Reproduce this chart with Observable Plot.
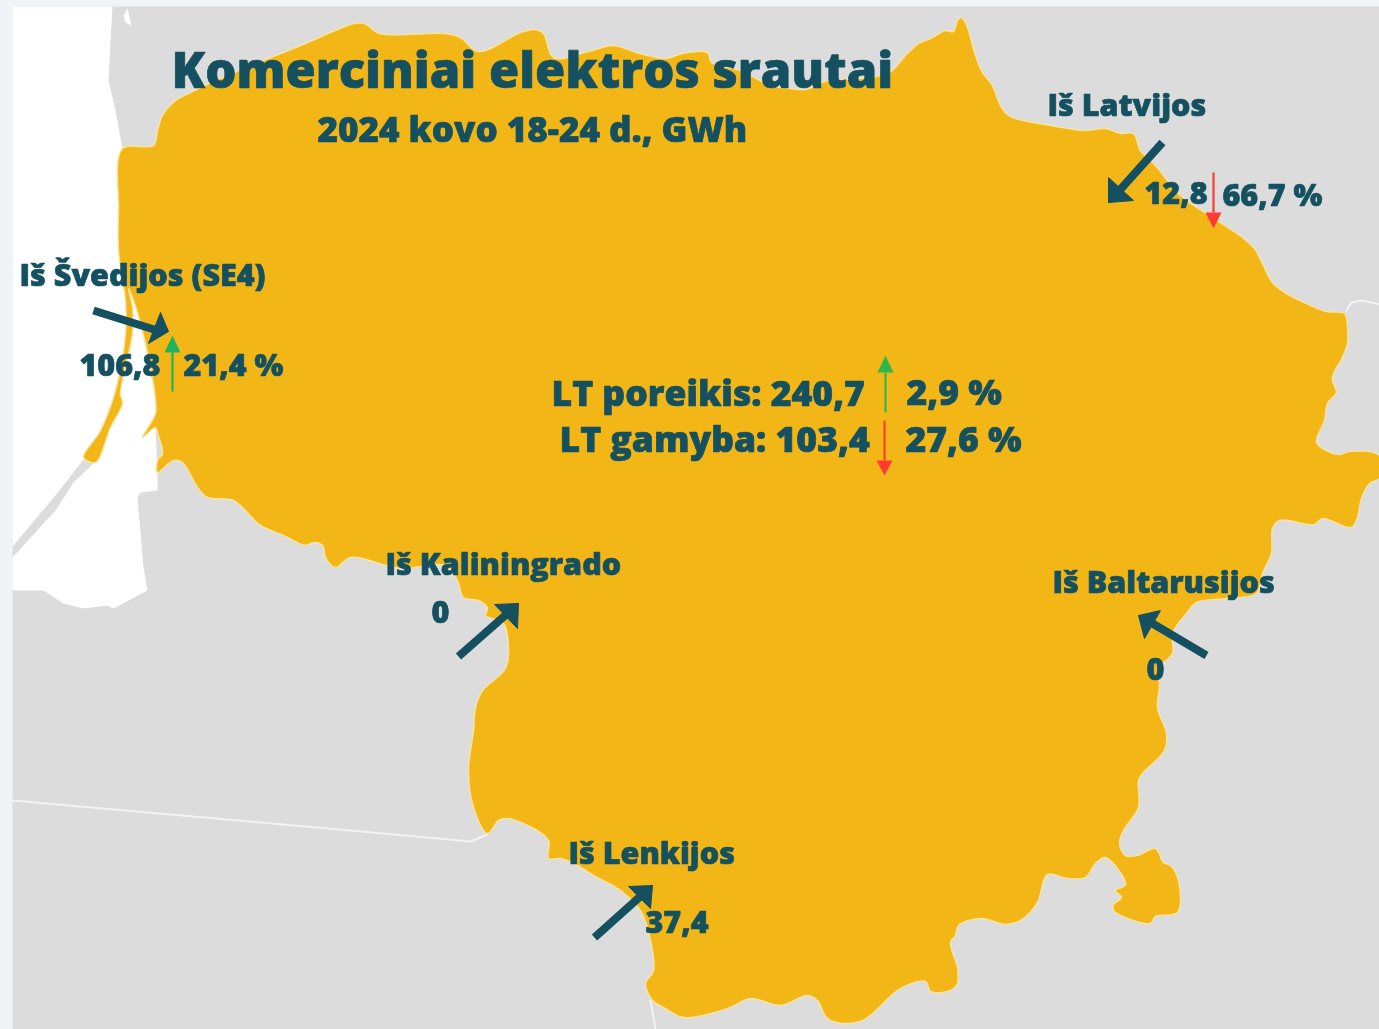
<!DOCTYPE html>
<html><head><meta charset="utf-8">
<script src="https://cdn.jsdelivr.net/npm/d3@7"></script>
<script src="https://cdn.jsdelivr.net/npm/@observablehq/plot@0.6"></script>
<style>html,body{margin:0;padding:0;background:#eff4f8;overflow:hidden}svg{display:block;filter:blur(0.45px)}</style>
</head><body><div id="chart"></div>
<script>
// Map outline, in picture pixels [x, y]
const lithuania = [[122,148],[153,145],[157,130],[162,115],[175,100],[190,92],[215,80],[300,45],[354,23],[364,23],[379,33],[445,33],[460,37],[478,51],[520,32],[534,29],[543,33],[553,57],[588,51],[613,45],[636,52],[665,58],[682,53],[707,52],[711,62],[740,70],[770,85],[790,88],[805,89],[827,80],[860,78],[889,72],[905,55],[918,43],[930,38],[945,30],[953,31],[957,20],[960,17],[965,22],[975,55],[982,72],[992,85],[1000,105],[1008,115],[1015,118],[1050,125],[1085,130],[1105,128],[1120,133],[1133,133],[1140,150],[1155,165],[1180,195],[1212,217],[1242,237],[1254,248],[1262,263],[1272,282],[1286,293],[1306,303],[1326,311],[1344,313],[1347,327],[1347,343],[1342,357],[1333,373],[1332,380],[1336,392],[1327,403],[1324,420],[1316,442],[1326,450],[1339,454],[1349,451],[1379,455],[1379,478],[1369,483],[1361,498],[1357,517],[1351,527],[1322,518],[1314,524],[1279,520],[1272,528],[1271,553],[1262,573],[1256,593],[1226,598],[1196,602],[1186,613],[1172,633],[1172,653],[1159,667],[1159,687],[1157,707],[1166,733],[1164,750],[1142,773],[1138,780],[1138,807],[1123,830],[1119,843],[1125,855],[1137,855],[1155,848],[1163,862],[1170,865],[1178,880],[1177,912],[1155,916],[1150,923],[1127,918],[1113,910],[1113,904],[1121,897],[1115,890],[1125,884],[1105,857],[1095,863],[1085,877],[1067,878],[1047,874],[1037,902],[1023,918],[1007,924],[980,918],[958,925],[955,935],[950,942],[957,967],[957,983],[950,990],[930,991],[925,981],[900,988],[860,1021],[828,1019],[817,1000],[807,995],[780,1005],[750,998],[727,1008],[683,1017],[663,1007],[652,1000],[645,983],[653,970],[650,940],[640,910],[620,890],[593,875],[577,865],[560,858],[548,858],[548,840],[533,828],[507,818],[498,820],[487,833],[473,807],[468,770],[473,730],[475,707],[482,690],[505,668],[508,647],[503,623],[485,615],[487,608],[478,600],[463,597],[457,580],[445,565],[400,568],[350,557],[335,567],[325,557],[322,545],[313,542],[305,545],[283,535],[260,525],[233,500],[207,497],[197,487],[182,462],[173,460],[157,472],[157,460],[162,453],[157,433],[155,427],[142,437],[155,413],[155,400],[150,367],[140,323],[133,300],[128,288],[132,307],[132,333],[120,393],[122,403],[110,427],[95,462],[83,457],[100,430],[115,390],[125,333],[125,300],[122,280],[118,250],[118,210]];
const sea = [[12,6],[112,6],[110,40],[108,80],[115,110],[122,148],[118,210],[118,250],[122,280],[128,288],[133,300],[140,323],[150,367],[155,400],[155,427],[157,472],[157,490],[140,492],[137,497],[143,567],[147,590],[113,608],[106,605],[83,608],[63,603],[43,590],[12,590]];
const curonianSpit = [[83,459],[93,463],[73,482],[55,510],[12,557],[12,546],[55,495]];
const islet = [[127,8],[131,25],[125,22],[123,15]];
const kaliningradBorder = [[12,800],[350,830],[470,841],[487,834]];
const polandBorder = [[650,1000],[655,1029]];
const latviaBorder = [[1346,310],[1351,302],[1362,300],[1379,304]];

// Flow arrows: shaft tail, tip and the two head corners
const flowNames = ["Latvija","Švedija","Kaliningradas","Baltarusija","Lenkija"];
const flowShafts = [[1162,142,1118,191],[93,310,160,331],[458,656,508,612],[1206,655,1147,620],[594,937,642,894]];
const flowHeads = [
  [[1108,202],[1108,177],[1133,200]],
  [[168,331],[160,312],[148,343]],
  [[518,603],[494,604],[517,628]],
  [[1138,615],[1160,610],[1144,638]],
  [[652,885],[628,886],[650,908]]
];

// Change indicators
const changeX =    [172, 885, 884, 1213];
const changeTail = [391, 412, 420, 172];
const changeTip =  [335, 355, 475, 228];
const changeBase = [352, 372, 460, 212];
const changeColor = ["#1fb45c","#2fb84a","#ff3b30","#ff3b30"];

// Text
const labels = ["Iš Latvijos","12,8","66,7 %","Iš Švedijos (SE4)","106,8","21,4 %","Iš Kaliningrado","0","Iš Baltarusijos","0","Iš Lenkijos","37,4"];
const labelX = [1047,1144,1222,19,79,183,385,431,1052,1146,568,645];
const labelY = [106,194,196,276,366,366,565,613,583,670,854,923];
const central = ["LT poreikis: 240,7","2,9 %","LT gamyba: 103,4","27,6 %"];
const centralX = [551,906,559,905];
const centralY = [394,393,440,440];

const ink = "#14505f", gold = "#f2b716", land = "#dcdcdc";
const font = "'Open Sans', sans-serif";
const poly = (pts, o) => Plot.line(pts, {x:d=>d[0], y:d=>d[1], ...o});
const closed = pts => [...pts, pts[0]];
const bold = {textAnchor:"start", fontWeight:800, fontFamily:font, fill:ink, stroke:ink, strokeWidth:0.7};

const chart = Plot.plot({
  width:1379, height:1029, margin:0,
  x:{domain:[0,1379], range:[0,1379], axis:null},
  y:{domain:[0,1029], range:[0,1029], axis:null},
  style:{background:"#eff4f8"},
  marks:[
    poly(closed([[12,6],[1379,6],[1379,1029],[12,1029]]), {fill:land, stroke:"none"}),
    poly(closed(sea), {fill:"#ffffff", stroke:"none"}),
    poly(closed(curonianSpit), {fill:land, stroke:"none"}),
    poly(closed(islet), {fill:"#ffffff", stroke:"none"}),
    poly(kaliningradBorder, {stroke:"#f3f3f3", strokeWidth:2}),
    poly(polandBorder, {stroke:"#f3f3f3", strokeWidth:2}),
    poly(latviaBorder, {stroke:"#f3f3f3", strokeWidth:2}),
    poly(lithuania, {curve:"catmull-rom-closed", fill:gold, stroke:"#f8e3a6", strokeWidth:1.5, strokeLinejoin:"round"}),
    Plot.link(flowShafts, {x1:d=>d[0], y1:d=>d[1], x2:d=>d[2], y2:d=>d[3], stroke:ink, strokeWidth:8}),
    ...flowHeads.map((h,i) => poly(closed(h), {fill:ink, stroke:ink, strokeWidth:1, title:()=>flowNames[i]})),
    Plot.link(changeX, {x1:d=>d, x2:d=>d, y1:(d,i)=>changeTail[i], y2:(d,i)=>changeBase[i], stroke:(d,i)=>changeColor[i], strokeWidth:2.2}),
    ...changeX.map((x,i) => poly(closed([[x,changeTip[i]],[x-8,changeBase[i]],[x+8,changeBase[i]]]), {fill:changeColor[i], stroke:"none"})),
    Plot.text(["Komerciniai elektros srautai"], {x:171, y:72, text:d=>d, fontSize:49, ...bold}),
    Plot.text(["2024 kovo 18-24 d., GWh"], {x:317, y:130, text:d=>d, fontSize:35, ...bold}),
    Plot.text(labels, {x:(d,i)=>labelX[i], y:(d,i)=>labelY[i], text:d=>d, fontSize:30.5, ...bold}),
    Plot.text(central, {x:(d,i)=>centralX[i], y:(d,i)=>centralY[i], text:d=>d, fontSize:35.5, ...bold})
  ]
});
document.getElementById("chart").append(chart);
</script></body></html>
